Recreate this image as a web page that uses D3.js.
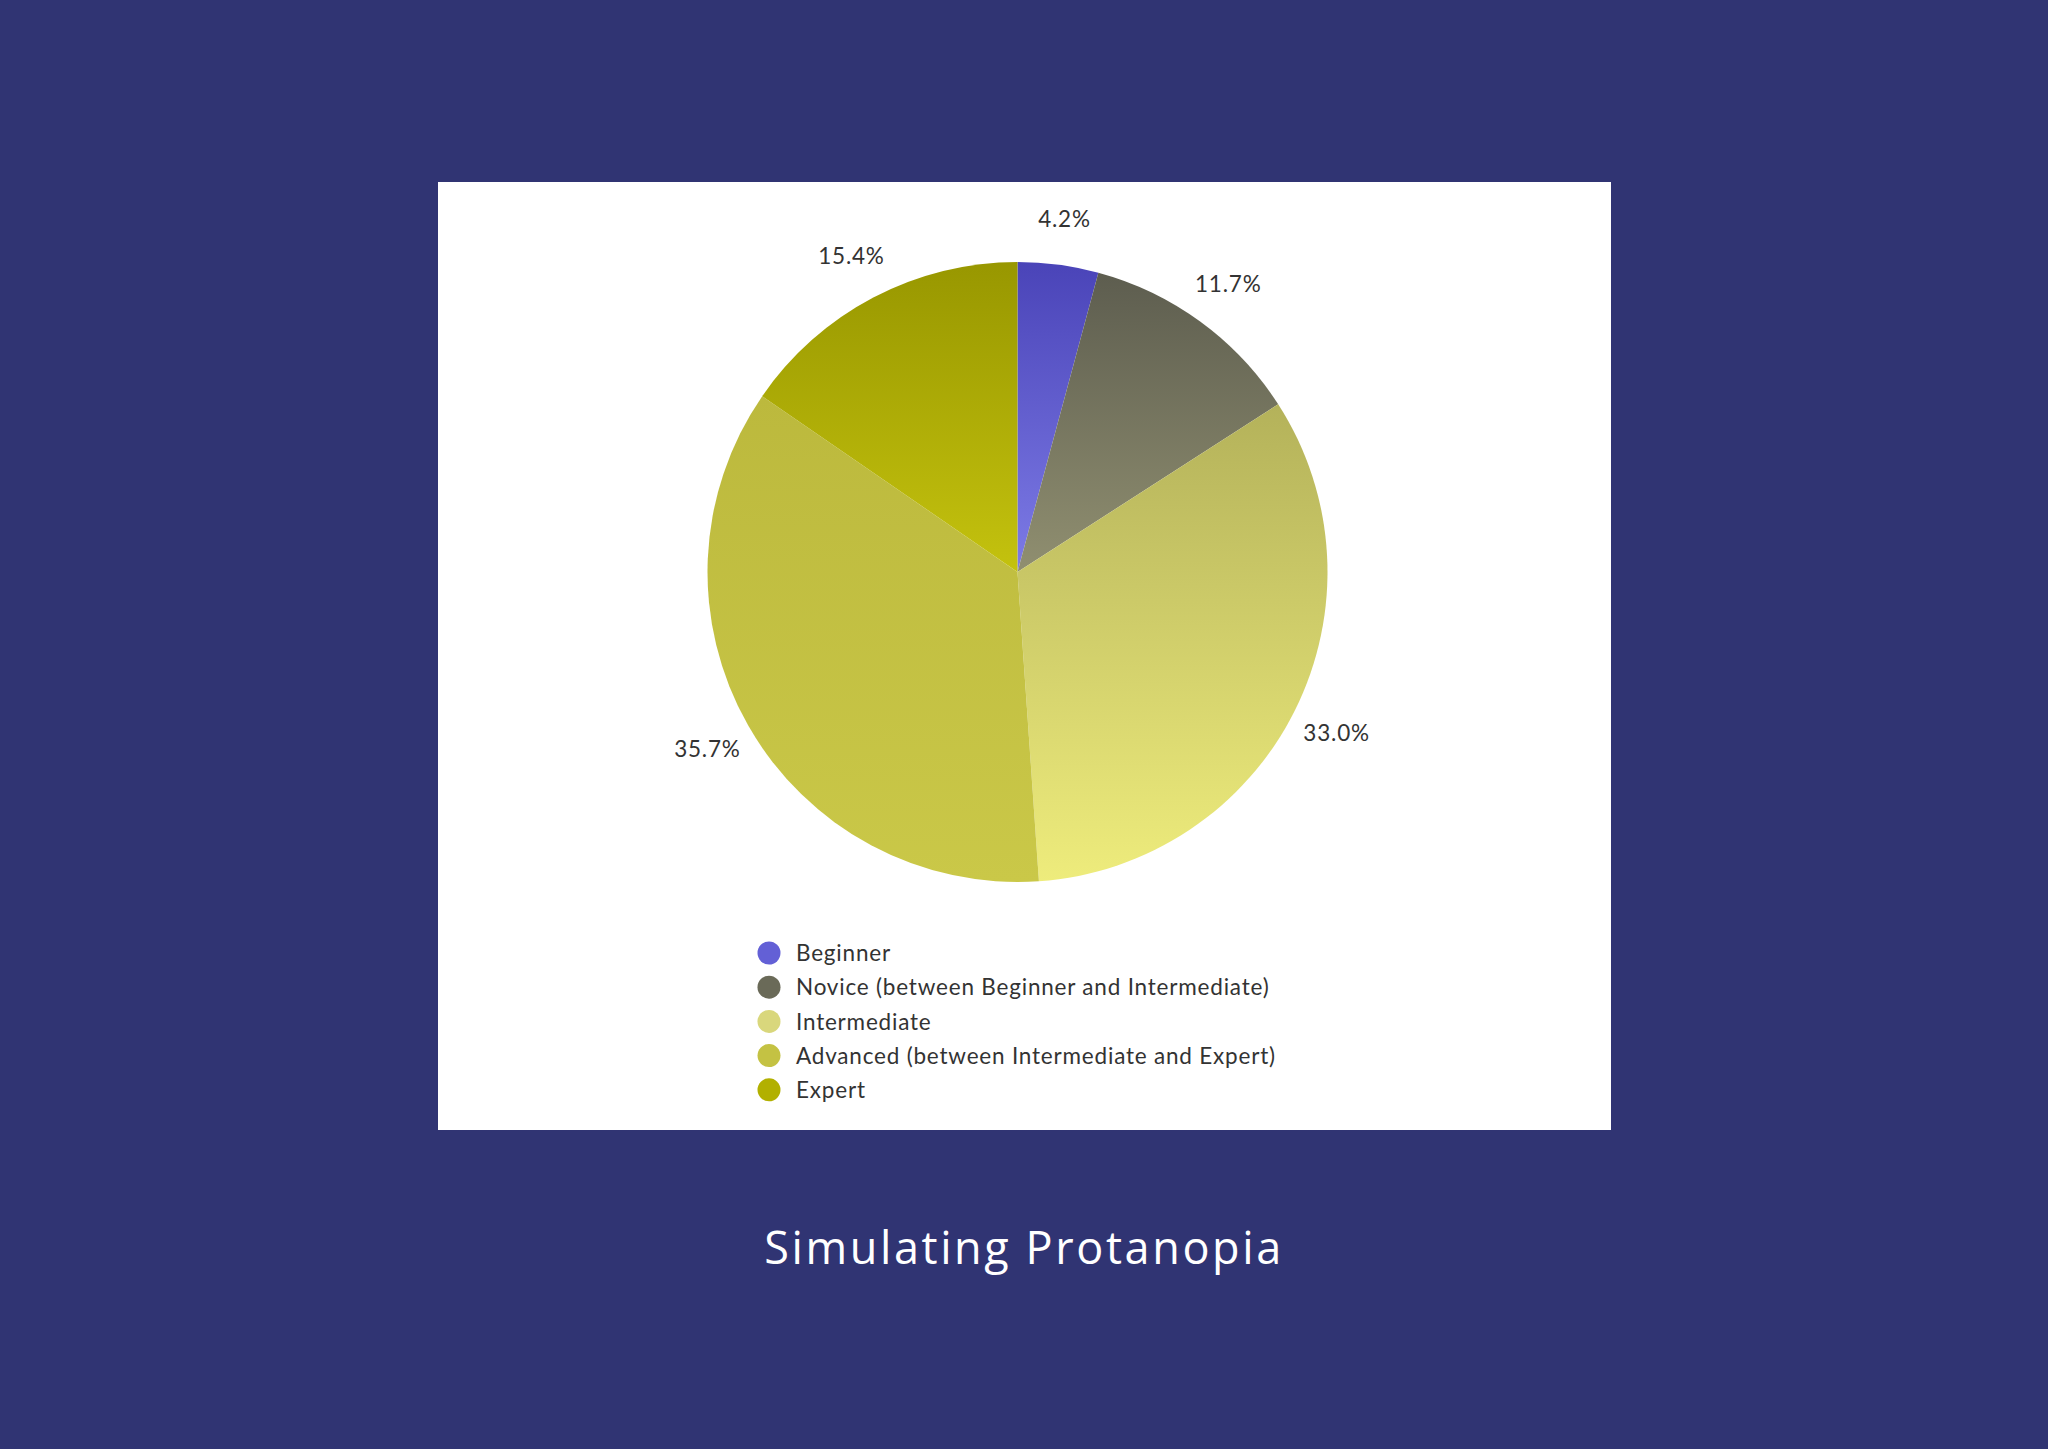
<!DOCTYPE html>
<html>
<head>
<meta charset="utf-8">
<script src="https://cdn.jsdelivr.net/npm/d3@7"></script>
<style>
  body { margin: 0; background: #303473; }
  svg { display: block; }
</style>
</head>
<body>
<div class="pie-chart"></div>
<script>
// Data
var categories = ["Beginner", "Novice (between Beginner and Intermediate)", "Intermediate",
                  "Advanced (between Intermediate and Expert)", "Expert"];
var values = [4.2, 11.7, 33.0, 35.7, 15.4];
var colorsTop = ["#4a44b8", "#5d5d4f", "#b4b25a", "#bcb93d", "#989700"];
var colorsBottom = ["#7d7be6", "#908f70", "#eeec7c", "#cac848", "#c4c20e"];
var legendColors = ["#6360d6", "#6a6a58", "#d9d77c", "#c4c243", "#b2b000"];
var title = "Simulating Protanopia";

var width = 2048, height = 1449;

var svg = d3.select('.pie-chart')
    .append('svg')
        .attr('width', width)
        .attr('height', height);

svg.append("rect")
    .attr("width", width)
    .attr("height", height)
    .attr("fill", "#303473");

// white card
svg.append("rect")
    .attr("x", 438)
    .attr("y", 182)
    .attr("width", 1173)
    .attr("height", 948)
    .attr("fill", "#ffffff");

var defs = svg.append("defs");
var grads = defs.selectAll("linearGradient")
    .data(values)
    .enter()
    .append("linearGradient")
        .attr("id", function(d, i) { return "grad" + i; })
        .attr("x1", 0).attr("y1", 0).attr("x2", 0).attr("y2", 1);
grads.append("stop").attr("offset", "0%").attr("stop-color", function(d, i) { return colorsTop[i]; });
grads.append("stop").attr("offset", "100%").attr("stop-color", function(d, i) { return colorsBottom[i]; });

var radius = 310;
var group = svg.append("g")
    .attr("transform", "translate(1017.5,572)");

var pie = d3.pie()
    .sort(null)
    .value(function(d) { return d; });

var arc = d3.arc()
    .innerRadius(0)
    .outerRadius(radius);

var labelArc = d3.arc()
    .innerRadius(357)
    .outerRadius(357);

var arcs = group.selectAll(".arc")
    .data(pie(values))
    .enter()
    .append('g')
        .attr('class', 'arc');

arcs.append("path")
    .attr('d', arc)
    .attr('fill', function(d, i) { return "url(#grad" + i + ")"; });

arcs.append("text")
    .attr("transform", function(d) { return "translate(" + labelArc.centroid(d) + ")"; })
    .attr("text-anchor", "middle")
    .attr("dominant-baseline", "central")
    .style("font-family", "Lato, 'Open Sans', sans-serif")
    .style("font-size", "22.5px")
    .style("letter-spacing", "0.8px")
    .style("fill", "#333333")
    .text(function(d) { return d.value.toFixed(1) + "%"; });

// legend
var legend = svg.append("g")
    .attr("transform", "translate(769,953)");

var items = legend.selectAll(".item")
    .data(categories)
    .enter()
    .append("g")
        .attr("class", "item")
        .attr("transform", function(d, i) { return "translate(0," + (i * 34.2) + ")"; });

items.append("circle")
    .attr("r", 11.5)
    .attr("fill", function(d, i) { return legendColors[i]; });

items.append("text")
    .attr("x", 27)
    .attr("dy", "0.36em")
    .style("font-family", "Lato, 'Open Sans', sans-serif")
    .style("font-size", "22.5px")
    .style("letter-spacing", "0.8px")
    .style("fill", "#333333")
    .text(function(d) { return d; });

svg.append("text")
    .attr("x", 1024)
    .attr("y", 1264)
    .attr("text-anchor", "middle")
    .style("font-family", "'Open Sans', sans-serif")
    .style("font-size", "45px")
    .style("font-weight", 500)
    .style("letter-spacing", "2.6px")
    .style("fill", "#ffffff")
    .text(title);
</script>
</body>
</html>
